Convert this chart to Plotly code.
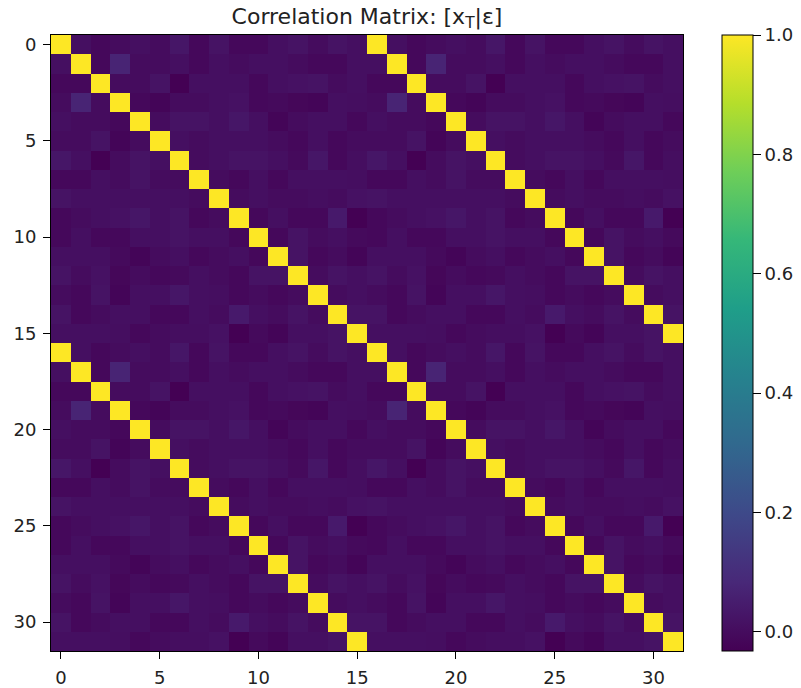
import numpy as np
import plotly.graph_objects as go

# 16x16 correlation block; the full matrix of [x_T | eps] tiles it 2x2
block = [
    [1.00, 0.01, -0.01, 0.00, 0.01, 0.00, 0.03, -0.01, 0.02, -0.01, -0.01, 0.01, 0.02, 0.00, 0.02, 0.01],
    [0.01, 1.00, -0.01, 0.07, 0.00, 0.00, 0.01, -0.01, 0.01, 0.00, 0.01, 0.01, 0.00, -0.01, -0.01, 0.01],
    [-0.01, -0.01, 1.00, 0.00, 0.00, 0.02, -0.032, 0.01, 0.01, 0.01, -0.01, 0.01, 0.015, 0.02, 0.00, 0.01],
    [0.00, 0.07, 0.00, 1.00, -0.01, -0.02, 0.00, 0.00, 0.01, 0.015, -0.01, -0.005, -0.015, -0.02, 0.01, 0.005],
    [0.01, 0.00, 0.00, -0.01, 1.00, 0.00, 0.02, 0.02, 0.01, 0.03, 0.01, -0.02, 0.00, 0.01, 0.01, -0.01],
    [0.00, 0.00, 0.02, -0.02, 0.00, 1.00, 0.01, 0.00, 0.01, 0.01, 0.01, 0.00, -0.01, 0.01, -0.01, 0.00],
    [0.03, 0.01, -0.032, 0.00, 0.02, 0.01, 1.00, 0.00, 0.01, 0.02, 0.02, 0.01, -0.005, 0.03, -0.01, 0.005],
    [-0.01, -0.01, 0.01, 0.00, 0.02, 0.00, 0.00, 1.00, 0.00, -0.01, 0.01, -0.01, 0.01, 0.01, 0.01, 0.005],
    [0.02, 0.01, 0.01, 0.01, 0.01, 0.01, 0.01, 0.00, 1.00, 0.00, 0.01, 0.00, 0.00, 0.005, 0.00, 0.015],
    [-0.01, 0.00, 0.01, 0.015, 0.03, 0.01, 0.02, -0.01, 0.00, 1.00, -0.01, 0.01, -0.01, -0.01, 0.04, -0.032],
    [-0.01, 0.01, -0.01, -0.01, 0.01, 0.01, 0.02, 0.01, 0.01, -0.01, 1.00, -0.01, 0.02, 0.00, 0.01, -0.005],
    [0.01, 0.01, 0.01, -0.005, -0.02, 0.00, 0.01, -0.01, 0.00, 0.01, -0.01, 1.00, 0.02, -0.01, 0.00, -0.02],
    [0.02, 0.00, 0.015, -0.015, 0.00, -0.01, -0.005, 0.01, 0.00, -0.01, 0.02, 0.02, 1.00, 0.00, 0.02, 0.01],
    [0.00, -0.01, 0.02, -0.02, 0.01, 0.01, 0.03, 0.01, 0.005, -0.01, 0.00, -0.01, 0.00, 1.00, 0.00, 0.01],
    [0.02, -0.01, 0.00, 0.01, 0.01, -0.01, -0.01, 0.01, 0.00, 0.04, 0.01, 0.00, 0.02, 0.00, 1.00, 0.02],
    [0.01, 0.01, 0.01, 0.005, -0.01, 0.00, 0.005, 0.005, 0.015, -0.032, -0.005, -0.02, 0.01, 0.01, 0.02, 1.00],
]

axis_ticks = [0, 5, 10, 15, 20, 25, 30]
colorbar_ticks = [0.0, 0.2, 0.4, 0.6, 0.8, 1.0]

B = np.array(block)
corr = np.block([[B, B], [B, B]])
n = corr.shape[0]

W, H = 801, 688
L, R, T, Bm = 51, 118, 35, 37
plot_w = W - L - R

tick_font = dict(family="DejaVu Sans", size=18, color="#222222")

fig = go.Figure(
    go.Heatmap(
        z=corr,
        x=np.arange(n),
        y=np.arange(n),
        colorscale="Viridis",
        zmin=float(corr.min()),
        zmax=float(corr.max()),
        colorbar=dict(
            x=(722 - L) / plot_w,
            xanchor="left",
            xpad=0,
            y=0.5,
            yanchor="middle",
            ypad=0,
            len=1.0,
            lenmode="fraction",
            thickness=31,
            thicknessmode="pixels",
            outlinecolor="black",
            outlinewidth=1,
            tickvals=colorbar_ticks,
            tickformat=".1f",
            ticks="outside",
            ticklen=8,
            tickwidth=1,
            tickcolor="black",
            tickfont=tick_font,
        ),
        hoverinfo="skip",
    )
)

axis_common = dict(
    tickvals=axis_ticks,
    ticks="outside",
    ticklen=7,
    tickwidth=1,
    tickcolor="black",
    ticklabelstandoff=3,
    showline=True,
    linecolor="black",
    linewidth=1,
    mirror=True,
    showgrid=False,
    zeroline=False,
    tickfont=tick_font,
)

fig.update_xaxes(range=[-0.5, n - 0.5], **axis_common)
fig.update_yaxes(range=[n - 0.5, -0.5], **axis_common)

fig.update_layout(
    width=W,
    height=H,
    margin=dict(l=L, r=R, t=T, b=Bm, autoexpand=False),
    paper_bgcolor="white",
    plot_bgcolor="white",
    title=dict(
        text="Correlation Matrix: [x<sub>T</sub>|ε]",
        x=(L + plot_w / 2) / W,
        xanchor="center",
        y=1 - 16 / H,
        yanchor="middle",
        font=dict(family="DejaVu Sans", size=22, color="#222222"),
    ),
)

fig.write_html("out.html")
